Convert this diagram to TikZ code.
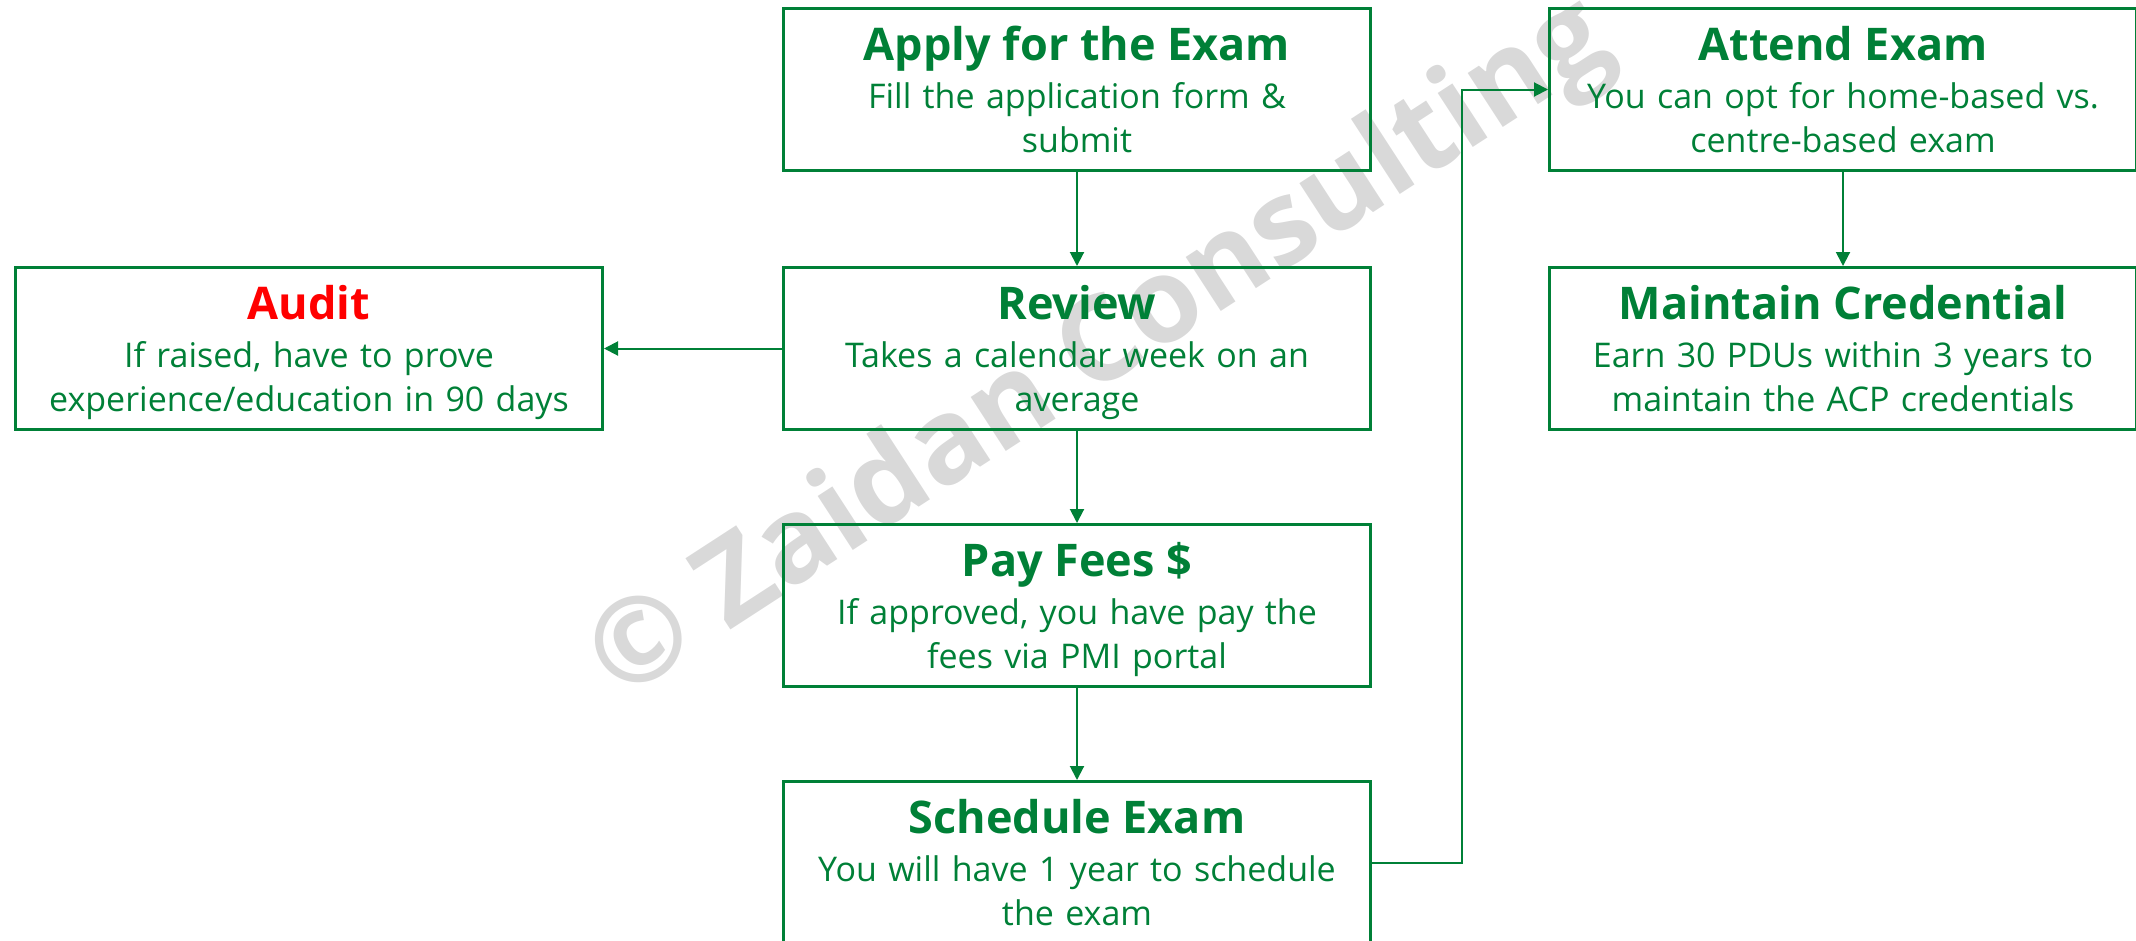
\documentclass[tikz,border=0pt]{standalone}
\usepackage{fontspec}
\setmainfont{Open Sans}
\usetikzlibrary{arrows.meta}
\definecolor{zgreen}{RGB}{0,128,55}
\definecolor{wmgray}{RGB}{217,217,217}
\begin{document}
\begin{tikzpicture}[x=1pt,y=-1pt,
  box/.style={draw=zgreen, line width=3pt, minimum width=587pt, minimum height=162pt, inner sep=0pt, anchor=north west},
  ttl/.style={anchor=base, inner sep=0pt, text=zgreen, font=\fontsize{45}{54}\selectfont\bfseries},
  bdy/.style={anchor=base, inner sep=0pt, text=zgreen, text width=585pt, align=center, font=\fontsize{34}{44}\selectfont},
  conn/.style={draw=zgreen, line width=2pt, -{Triangle[length=14pt,width=14pt]}}]
\useasboundingbox (0,0) rectangle (2136,940);
\clip (0,0) rectangle (2136,940);
\node[rotate=33, text=wmgray, inner sep=0pt, font=\fontsize{118}{140}\selectfont\bfseries] (wm) at (1102,352) {© Zaidan Consulting};

\node[box] (apply) at (782,7) {};
\node[box] (review) at (782,266) {};
\node[box] (pay) at (782,523) {};
\node[box] (sched) at (782,780) {};
\node[box] (audit) at (14,266) {};
\node[box] (attend) at (1548,7) {};
\node[box] (maint) at (1548,266) {};

\node[ttl] (applyT) at ([yshift=-53pt]apply.north) {Apply for the Exam};
\node[bdy] (applyB) at ([yshift=-101pt]apply.north) {Fill the application form \&\\submit};
\node[ttl] (reviewT) at ([yshift=-53pt]review.north) {Review};
\node[bdy] (reviewB) at ([yshift=-101pt]review.north) {Takes a calendar week on an\\average};
\node[ttl] (payT) at ([yshift=-53pt]pay.north) {Pay Fees \$};
\node[bdy] (payB) at ([yshift=-101pt]pay.north) {If approved, you have pay the\\fees via PMI portal};
\node[ttl] (schedT) at ([yshift=-53pt]sched.north) {Schedule Exam};
\node[bdy] (schedB) at ([yshift=-101pt]sched.north) {You will have 1 year to schedule\\the exam};
\node[ttl, text=red] (auditT) at ([yshift=-53pt]audit.north) {Audit};
\node[bdy] (auditB) at ([yshift=-101pt]audit.north) {If raised, have to prove\\experience/education in 90 days};
\node[ttl] (attendT) at ([yshift=-53pt]attend.north) {Attend Exam};
\node[bdy] (attendB) at ([yshift=-101pt]attend.north) {You can opt for home-based vs.\\centre-based exam};
\node[ttl] (maintT) at ([yshift=-53pt]maint.north) {Maintain Credential};
\node[bdy] (maintB) at ([yshift=-101pt]maint.north) {Earn 30 PDUs within 3 years to\\maintain the ACP credentials};

\draw[conn] (apply) -- (review);
\draw[conn] (review) -- (audit);
\draw[conn] (review) -- (pay);
\draw[conn] (pay) -- (sched);
\draw[conn] (sched.east) -- ++(90,0) |- (attend.west);
\draw[conn] (attend) -- (maint);
\end{tikzpicture}
\end{document}
